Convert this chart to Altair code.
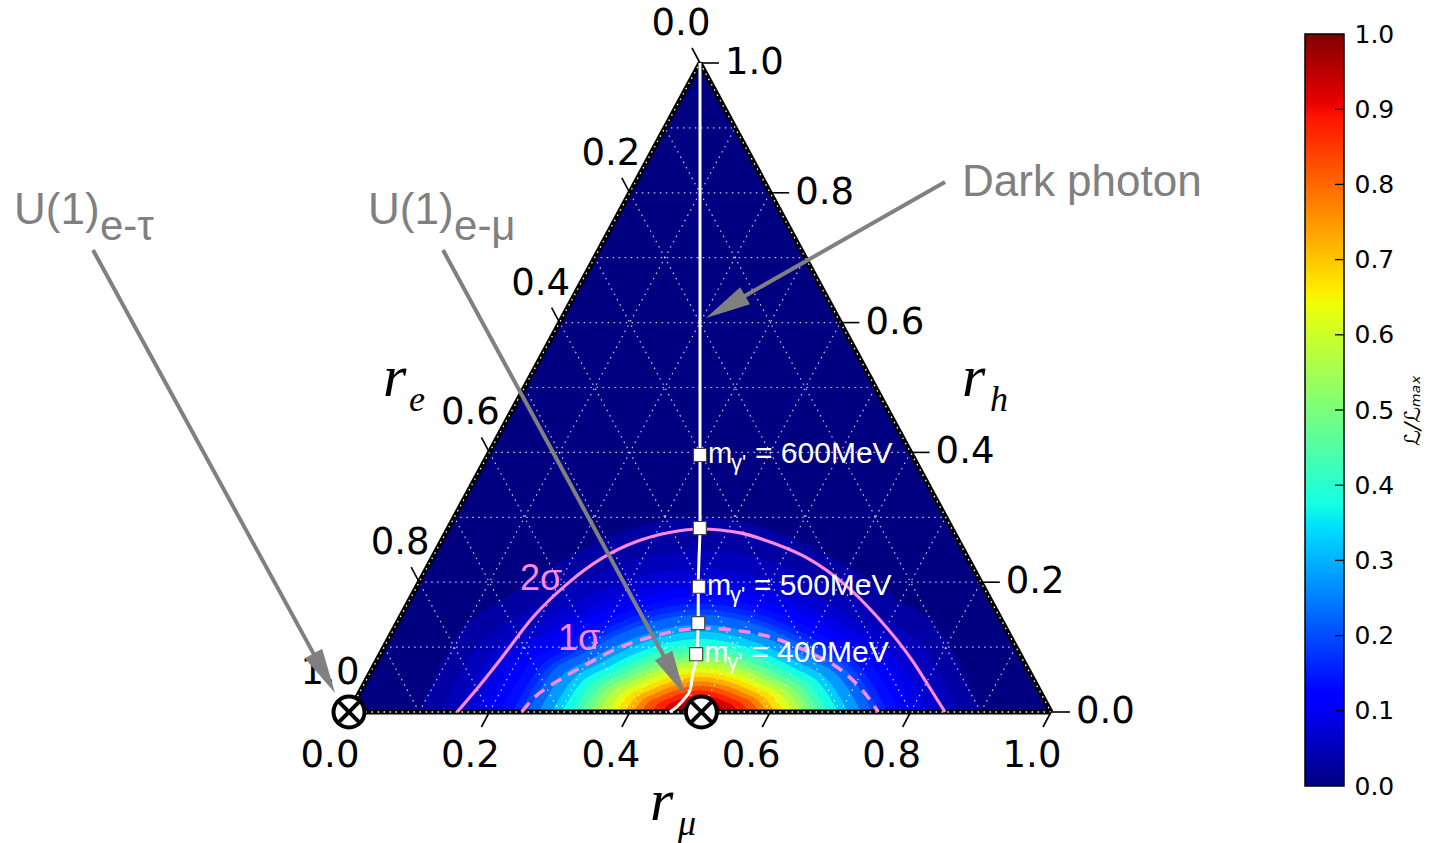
import math
import altair as alt
import pandas as pd

# ---------------- values ----------------
TICK_VALUES = [0.0, 0.2, 0.4, 0.6, 0.8, 1.0]
TICK_LABELS = ["0.0", "0.2", "0.4", "0.6", "0.8", "1.0"]
GRID_VALUES = [0.1, 0.2, 0.3, 0.4, 0.5, 0.6, 0.7, 0.8, 0.9]
CBAR_TICKS = [0.0, 0.1, 0.2, 0.3, 0.4, 0.5, 0.6, 0.7, 0.8, 0.9, 1.0]

# likelihood iso-levels: half width at the r_h = 0 edge and height (r_h) at the centre
BAND_LEVELS = [0.02, 0.04, 0.06, 0.08, 0.10, 0.125, 0.15, 0.175, 0.20, 0.25, 0.30, 0.35,
               0.40, 0.45, 0.50, 0.55, 0.60, 0.65, 0.70, 0.75, 0.80, 0.85, 0.90, 0.95]
BAND_HW = [0.400, 0.370, 0.345, 0.325, 0.308, 0.285, 0.267, 0.256, 0.246, 0.230, 0.211, 0.197,
           0.182, 0.169, 0.157, 0.145, 0.132, 0.120, 0.107, 0.095, 0.084, 0.069, 0.054, 0.035]
BAND_H = [0.300, 0.250, 0.222, 0.204, 0.190, 0.177, 0.167, 0.158, 0.150, 0.135, 0.124, 0.1125,
          0.103, 0.093, 0.084, 0.077, 0.069, 0.061, 0.054, 0.047, 0.040, 0.033, 0.026, 0.019]
BAND_CENTER = 0.5
# shape of an iso-line (fraction of half width vs fraction of height)
SHAPE_D = [1.0, 0.88, 0.67, 0.40, 0.0]
SHAPE_Y = [0.0, 0.36, 0.61, 0.85, 1.0]

# confidence contours (ternary coordinates r_mu, r_h)
SIG2_MU = [0.154, 0.166, 0.175, 0.189, 0.213, 0.242, 0.279, 0.320, 0.359, 0.419, 0.475,
           0.537, 0.604, 0.680, 0.762, 0.809, 0.849]
SIG2_H = [0.0, 0.042, 0.080, 0.146, 0.199, 0.237, 0.263, 0.277, 0.282, 0.276, 0.260,
          0.236, 0.199, 0.146, 0.080, 0.037, 0.0]
SIG1_MU = [0.246, 0.253, 0.266, 0.300, 0.335, 0.376, 0.435, 0.495, 0.548, 0.609, 0.673, 0.714, 0.754]
SIG1_H = [0.0, 0.023, 0.040, 0.072, 0.099, 0.117, 0.129, 0.125, 0.114, 0.092, 0.062, 0.034, 0.0]

# dark photon path and mass markers
DP_MU = [0.0, 0.3575, 0.3815, 0.401, 0.429, 0.451, 0.460, 0.469, 0.468, 0.463, 0.457]
DP_H = [1.0, 0.285, 0.234, 0.193, 0.137, 0.089, 0.060, 0.034, 0.022, 0.008, 0.0]
MK_MU = [0.302, 0.358, 0.402, 0.429, 0.450]
MK_H = [0.396, 0.2835, 0.193, 0.137, 0.089]
MASS_LABELS = ["600MeV", "", "500MeV", "", "400MeV"]

# benchmark points (crossed circles)
PT_MU = [0.0, 0.502]
PT_H = [0.0, 0.0]

# annotations (plot coordinates: horizontal = r_mu + r_h/2, vertical = r_h)
ANN_TEXT = ["Dark photon", "U(1)", "U(1)"]
ANN_X = [0.8732, -0.4772, 0.0271]
ANN_Y = [0.7951, 0.7519, 0.7519]
ANN_SUB = ["e-τ", "e-μ"]
ANN_SUB_X = [-0.3547, 0.1496]
ANN_SUB_Y = [0.7273, 0.7273]
ARROW_X0 = [0.849, 0.1339, -0.3647]
ARROW_Y0 = [0.8166, 0.7119, 0.7119]
ARROW_X1 = [0.5085, 0.4786, -0.0199]
ARROW_Y1 = [0.6071, 0.0262, 0.0293]
SIGMA_TEXT = ["2σ", "1σ"]
SIGMA_X = [0.2436, 0.2977]
SIGMA_Y = [0.188, 0.0955]
AXNAME_X = [0.0484, 0.8732, 0.4288]
AXNAME_Y = [0.4869, 0.4869, -0.1664]
AXNAME_SUB = ["e", "h", "μ"]
AXNAME_SUB_X = [0.0855, 0.9131, 0.4687]
AXNAME_SUB_Y = [0.4638, 0.4638, -0.1895]

# jet colormap
JET_STOPS = [0.0, 0.11, 0.125, 0.34, 0.35, 0.375, 0.64, 0.65, 0.66, 0.89, 0.91, 1.0]
JET_COLORS = ["#000080", "#0000ff", "#0000ff", "#00dbff", "#00e6f7", "#15ffe2",
              "#eeff08", "#f7f500", "#ffec00", "#ff1300", "#e80000", "#800000"]

# ---------------- layout ----------------
W, H = 1240, 843
PX0, PXS = 349.0, 702.0
PY0, PYS = 712.0, 649.0
XDOM = [(0 - PX0) / PXS, (W - PX0) / PXS]
YDOM = [(PY0 - H) / PYS, PY0 / PYS]
xs = alt.Scale(domain=XDOM, nice=False, zero=False)
ys = alt.Scale(domain=YDOM, nice=False, zero=False)
PINK = "#ff88e0"
GRAY = "#808080"
jet = alt.Scale(domain=JET_STOPS, range=JET_COLORS, interpolate="rgb")


def ex(f="X"):
    return alt.X(f + ":Q", scale=xs, axis=None)


def ey(f="Y"):
    return alt.Y(f + ":Q", scale=ys, axis=None, stack=None)


def tern(mu, h):
    return mu + h / 2.0, h


# triangle background
tri = pd.DataFrame({"X": [0.0, 0.5, 1.0], "Y": [0.0, 1.0, 0.0], "Y0": [0.0, 0.0, 0.0]})
layers = [alt.Chart(tri).mark_area(color="#000080", opacity=1).encode(x=ex(), y=ey(), y2="Y0:Q")]

# likelihood iso-bands, lowest first
for k, (lv, hw, hh) in enumerate(zip(BAND_LEVELS, BAND_HW, BAND_H)):
    nxt = BAND_LEVELS[k + 1] if k + 1 < len(BAND_LEVELS) else 1.0
    mid = 0.5 * (lv + nxt)
    pts = []
    for d, fy in zip(SHAPE_D, SHAPE_Y):
        pts.append((BAND_CENTER - d * hw, fy * hh))
    for d, fy in list(zip(SHAPE_D, SHAPE_Y))[-2::-1]:
        pts.append((BAND_CENTER + d * hw, fy * hh))
    df = pd.DataFrame({"X": [p[0] for p in pts], "Y": [p[1] for p in pts],
                       "Y0": [0.0] * len(pts), "m": [mid] * len(pts)})
    layers.append(alt.Chart(df).mark_area(interpolate="monotone", opacity=1).encode(
        x=ex(), y=ey(), y2="Y0:Q", color=alt.Color("m:Q", scale=jet, legend=None)))

# grid lines
segs = []
for c in GRID_VALUES:
    for (m0, h0), (m1, h1) in [((0, c), (1 - c, c)), ((c, 0), (c, 1 - c)), ((1 - c, 0), (0, 1 - c))]:
        a = tern(m0, h0)
        b = tern(m1, h1)
        segs.append({"X": a[0], "Y": a[1], "X2": b[0], "Y2": b[1]})
layers.append(alt.Chart(pd.DataFrame(segs)).mark_rule(color="white", strokeWidth=1.2, strokeDash=[1.5, 4.5],
                                                      opacity=0.8).encode(x=ex(), y=ey(), x2="X2:Q", y2="Y2:Q"))

edges = pd.DataFrame({"X": [0.0, 0.5, 1.0], "Y": [0.0, 1.0, 0.0], "X2": [0.5, 1.0, 0.0], "Y2": [1.0, 0.0, 0.0]})
layers.append(alt.Chart(edges).mark_rule(color="black", strokeWidth=5).encode(
    x=ex(), y=ey(), x2="X2:Q", y2="Y2:Q"))
layers.append(alt.Chart(edges).mark_rule(color="white", strokeWidth=1.3, strokeDash=[1.5, 4.5]).encode(
    x=ex(), y=ey(), x2="X2:Q", y2="Y2:Q"))

# ticks and tick labels
tk = []
lb_bottom, lb_right, lb_left = [], [], []
for v, t in zip(TICK_VALUES, TICK_LABELS):
    bx, by = tern(v, 0.0)
    tk.append({"X": bx, "Y": by, "X2": bx - 8 / PXS, "Y2": by - 15 / PYS})
    lb_bottom.append({"X": bx, "Y": by, "t": t})
    rx, ry = tern(1 - v, v)
    tk.append({"X": rx, "Y": ry, "X2": rx + 19 / PXS, "Y2": ry})
    lb_right.append({"X": rx, "Y": ry, "t": t})
    lx, ly = tern(0.0, 1 - v)
    tk.append({"X": lx, "Y": ly, "X2": lx - 8 / PXS, "Y2": ly + 15 / PYS})
    lb_left.append({"X": lx, "Y": ly, "t": t})
layers.append(alt.Chart(pd.DataFrame(tk)).mark_rule(color="black", strokeWidth=1.6).encode(
    x=ex(), y=ey(), x2="X2:Q", y2="Y2:Q"))
TF = dict(font="DejaVu Sans", fontSize=37, color="black")
layers.append(alt.Chart(pd.DataFrame(lb_bottom)).mark_text(align="center", baseline="middle", dx=-19, dy=44, **TF)
              .encode(x=ex(), y=ey(), text="t:N"))
layers.append(alt.Chart(pd.DataFrame(lb_right)).mark_text(align="left", baseline="middle", dx=25, dy=0, **TF)
              .encode(x=ex(), y=ey(), text="t:N"))
layers.append(alt.Chart(pd.DataFrame(lb_left)).mark_text(align="center", baseline="middle", dx=-19, dy=-39, **TF)
              .encode(x=ex(), y=ey(), text="t:N"))

# axis names
axn = pd.DataFrame({"X": AXNAME_X, "Y": AXNAME_Y})
axs = pd.DataFrame({"X": AXNAME_SUB_X, "Y": AXNAME_SUB_Y, "t": AXNAME_SUB})
layers.append(alt.Chart(axn).mark_text(text="r", font="Liberation Serif", fontStyle="italic", fontSize=60,
                                       align="left", baseline="alphabetic", color="black").encode(x=ex(), y=ey()))
layers.append(alt.Chart(axs).mark_text(font="Liberation Serif", fontStyle="italic", fontSize=36,
                                       align="left", baseline="alphabetic", color="black")
              .encode(x=ex(), y=ey(), text="t:N"))


def line_df(mu, h):
    rows = []
    for i, (m, hh) in enumerate(zip(mu, h)):
        x, y = tern(m, hh)
        rows.append({"X": x, "Y": y, "i": i})
    return pd.DataFrame(rows)


# contours
layers.append(alt.Chart(line_df(SIG2_MU, SIG2_H)).mark_line(color=PINK, strokeWidth=3.2, interpolate="monotone")
              .encode(x=ex(), y=ey(), order="i:Q"))
layers.append(alt.Chart(line_df(SIG1_MU, SIG1_H)).mark_line(color=PINK, strokeWidth=3.5, strokeDash=[12, 8],
                                                             interpolate="monotone")
              .encode(x=ex(), y=ey(), order="i:Q"))
layers.append(alt.Chart(pd.DataFrame({"X": SIGMA_X, "Y": SIGMA_Y, "t": SIGMA_TEXT})).mark_text(
    font="Liberation Sans", fontSize=36, color=PINK, align="left", baseline="alphabetic")
    .encode(x=ex(), y=ey(), text="t:N"))

# dark photon line + markers
layers.append(alt.Chart(line_df(DP_MU, DP_H)).mark_line(color="white", strokeWidth=3, interpolate="monotone")
              .encode(x=ex(), y=ey(), order="i:Q"))
mk_rows = []
for m, hh, t in zip(MK_MU, MK_H, MASS_LABELS):
    x, y = tern(m, hh)
    mk_rows.append({"X": x, "Y": y, "t": t, "eq": ("= " + t) if t else ""})
mk_df = pd.DataFrame(mk_rows)
layers.append(alt.Chart(mk_df).mark_point(shape="square", size=170, filled=True, fill="white",
                                          stroke="#444444", strokeWidth=1.2, opacity=1).encode(x=ex(), y=ey()))
lbl_df = mk_df[mk_df["t"] != ""]
MF = dict(font="Liberation Sans", color="white", align="left", baseline="alphabetic")
layers.append(alt.Chart(lbl_df).mark_text(text="m", fontSize=29, dx=8, dy=8, **MF).encode(x=ex(), y=ey()))
layers.append(alt.Chart(lbl_df).mark_text(text="γ'", fontSize=22, dx=31, dy=15, **MF).encode(x=ex(), y=ey()))
layers.append(alt.Chart(lbl_df).mark_text(fontSize=30, dx=55, dy=8, **MF).encode(x=ex(), y=ey(), text="eq:N"))

# crossed circles
pts_df = pd.DataFrame([{"X": tern(m, hh)[0], "Y": tern(m, hh)[1]} for m, hh in zip(PT_MU, PT_H)])
layers.append(alt.Chart(pts_df).mark_point(shape="circle", size=961, filled=True, fill="white", stroke="black",
                                           strokeWidth=4, opacity=1).encode(x=ex(), y=ey()))
layers.append(alt.Chart(pts_df).mark_point(shape="M-0.62,-0.62L0.62,0.62M-0.62,0.62L0.62,-0.62", size=961,
                                           filled=False, stroke="black", strokeWidth=4, opacity=1)
              .encode(x=ex(), y=ey()))

# arrows
arr = []
for x0, y0, x1, y1 in zip(ARROW_X0, ARROW_Y0, ARROW_X1, ARROW_Y1):
    dpx = (x1 - x0) * PXS
    dpy = -(y1 - y0) * PYS
    L = math.hypot(dpx, dpy)
    ux, uy = dpx / L, dpy / L
    ang = math.degrees(math.atan2(dpx, -dpy)) % 360
    arr.append({"X": x0, "Y": y0, "X2": x1 - ux * 30 / PXS, "Y2": y1 + uy * 30 / PYS,
                "HX": x1, "HY": y1, "ang": ang})
arr_df = pd.DataFrame(arr)
layers.append(alt.Chart(arr_df).mark_rule(color=GRAY, strokeWidth=4).encode(x=ex(), y=ey(), x2="X2:Q", y2="Y2:Q"))
layers.append(alt.Chart(arr_df).mark_point(shape="M0,0L-0.22,1L0.22,1Z", size=8100, filled=True, color=GRAY,
                                           opacity=1)
              .encode(x=ex("HX"), y=ey("HY"), angle=alt.Angle("ang:Q", scale=None)))

layers.append(alt.Chart(pd.DataFrame({"X": ANN_X, "Y": ANN_Y, "t": ANN_TEXT})).mark_text(
    font="Liberation Sans", fontSize=44, color=GRAY, align="left", baseline="alphabetic")
    .encode(x=ex(), y=ey(), text="t:N"))
layers.append(alt.Chart(pd.DataFrame({"X": ANN_SUB_X, "Y": ANN_SUB_Y, "t": ANN_SUB})).mark_text(
    font="Liberation Sans", fontSize=42, color=GRAY, align="left", baseline="alphabetic")
    .encode(x=ex(), y=ey(), text="t:N"))

main = alt.layer(*layers).properties(width=W, height=H)

# ---------------- colour bar ----------------
CB_TOP, CB_BOT = 34.0, 786.0
span = (CB_BOT - CB_TOP) / H
CB_D0 = -(H - CB_BOT) / (CB_BOT - CB_TOP)
CB_D1 = CB_D0 + 1.0 / span
cbs = alt.Scale(domain=[CB_D0, CB_D1], nice=False, zero=False)
cb_axis = alt.Axis(orient="right", values=CBAR_TICKS, format=".1f", ticks=False, tickSize=0,
                   domain=False, grid=False, labelFont="DejaVu Sans", labelFontSize=25,
                   labelColor="black", labelPadding=10, title="ℒ/ℒₘₐₓ", titleAngle=270,
                   titleFont="DejaVu Sans", titleFontStyle="italic", titleFontWeight="normal",
                   titleFontSize=22, titleX=68, titleY=410, titleAlign="center", titleBaseline="middle",
                   titleColor="black")
grad = alt.LinearGradient(gradient="linear",
                          stops=[alt.GradientStop(color=c, offset=o) for o, c in zip(JET_STOPS, JET_COLORS)],
                          x1=0, x2=0, y1=1, y2=0)
cb_df = pd.DataFrame({"lo": [0.0], "hi": [1.0]})
bar = alt.Chart(cb_df).mark_rect(fill=grad, stroke="black", strokeWidth=1.5).encode(
    x=alt.value(0), x2=alt.value(39), y=alt.Y("lo:Q", scale=cbs, axis=cb_axis), y2="hi:Q")
cb_ticks = alt.Chart(pd.DataFrame({"lo": CBAR_TICKS[1:-1]})).mark_rule(color="black", strokeWidth=1.3).encode(
    x=alt.value(30), x2=alt.value(39), y=alt.Y("lo:Q", scale=cbs, axis=cb_axis))
cbar = alt.layer(bar, cb_ticks).properties(width=39, height=H)

chart = alt.hconcat(main, cbar, spacing=64).configure_view(strokeWidth=0).properties(
    padding={"left": 0, "top": 0, "right": 0, "bottom": 0}, background="white")

chart.save("out.html", embed_options={"renderer": "svg", "actions": False})
